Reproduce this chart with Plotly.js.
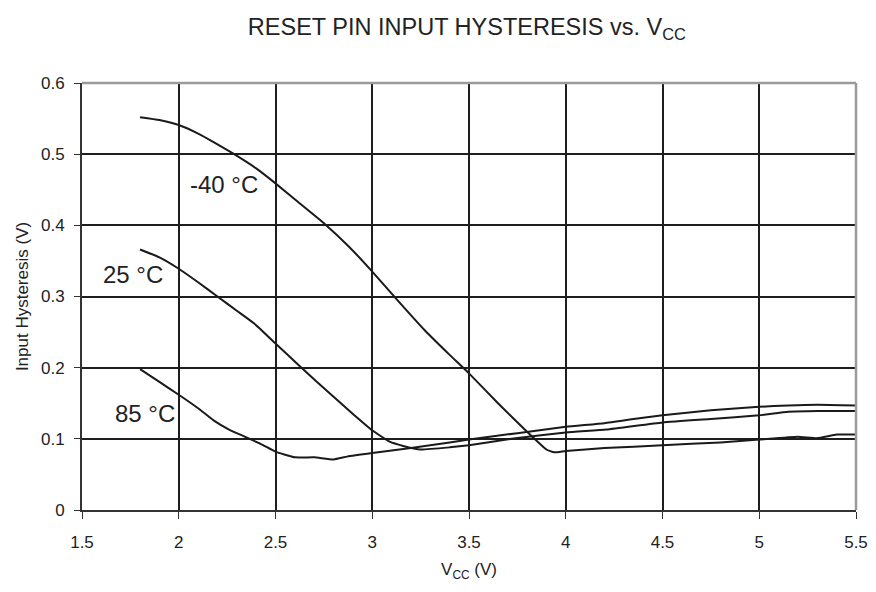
<!DOCTYPE html>
<html>
<head>
<meta charset="utf-8">
<script src="https://cdn.plot.ly/plotly-3.0.1.min.js"></script>
<style>html,body{margin:0;padding:0;background:#fff;}#chart{width:876px;height:592px;}</style>
</head>
<body>
<div id="chart"></div>
<script>
// Data
const vccM40 = [1.8, 1.9, 2.0, 2.1, 2.18, 2.28, 2.4, 2.5, 2.62, 2.75, 2.88, 3.0, 3.13, 3.27, 3.4, 3.5, 3.65, 3.8, 3.9, 3.94, 4.0, 4.2, 4.5, 4.8, 5.0, 5.2, 5.3, 5.4, 5.5];
const hystM40 = [0.552, 0.548, 0.541, 0.529, 0.517, 0.501, 0.480, 0.459, 0.432, 0.403, 0.370, 0.335, 0.295, 0.253, 0.218, 0.192, 0.150, 0.110, 0.085, 0.081, 0.083, 0.087, 0.091, 0.095, 0.099, 0.103, 0.101, 0.106, 0.106];

const vcc25 = [1.8, 1.9, 2.0, 2.1, 2.2, 2.3, 2.39, 2.5, 2.63, 2.8, 2.9, 3.0, 3.09, 3.16, 3.25, 3.4, 3.5, 3.72, 4.0, 4.21, 4.5, 4.75, 5.0, 5.15, 5.3, 5.5];
const hyst25 = [0.366, 0.355, 0.339, 0.320, 0.300, 0.280, 0.262, 0.234, 0.201, 0.159, 0.135, 0.112, 0.096, 0.090, 0.085, 0.088, 0.091, 0.100, 0.109, 0.113, 0.123, 0.128, 0.133, 0.138, 0.139, 0.139];

const vcc85 = [1.8, 1.9, 2.0, 2.1, 2.18, 2.26, 2.35, 2.43, 2.5, 2.6, 2.7, 2.8, 2.87, 3.0, 3.2, 3.4, 3.5, 3.75, 4.0, 4.2, 4.38, 4.5, 4.75, 5.0, 5.15, 5.3, 5.5];
const hyst85 = [0.198, 0.180, 0.162, 0.143, 0.126, 0.113, 0.102, 0.092, 0.082, 0.074, 0.074, 0.071, 0.075, 0.080, 0.087, 0.095, 0.099, 0.108, 0.117, 0.122, 0.129, 0.133, 0.140, 0.145, 0.147, 0.148, 0.147];

const seriesLabels = ["-40 °C", "25 °C", "85 °C"];
const labelX = [2.232, 1.766, 1.828];
const labelY = [0.458, 0.331, 0.135];

const xTicks = [1.5, 2, 2.5, 3, 3.5, 4, 4.5, 5, 5.5];
const yTicks = [0, 0.1, 0.2, 0.3, 0.4, 0.5, 0.6];

const FONT = "Liberation Sans, Arial, Helvetica, sans-serif";
const lineStyle = {color: "#1a1a1a", width: 2, shape: "spline", smoothing: 0.4};

const traces = [
  {x: vccM40, y: hystM40, name: seriesLabels[0], mode: "lines", line: lineStyle},
  {x: vcc25, y: hyst25, name: seriesLabels[1], mode: "lines", line: lineStyle},
  {x: vcc85, y: hyst85, name: seriesLabels[2], mode: "lines", line: lineStyle}
];

const annotations = seriesLabels.map((t, i) => ({
  x: labelX[i], y: labelY[i], xref: "x", yref: "y", text: t, showarrow: false,
  font: {family: FONT, size: 24, color: "#222"}, xanchor: "center", yanchor: "middle"
}));

const layout = {
  width: 876, height: 592,
  margin: {l: 82, r: 20, t: 83, b: 82},
  paper_bgcolor: "#fff", plot_bgcolor: "#fff",
  showlegend: false,
  font: {family: FONT, color: "#222"},
  title: {text: "RESET PIN INPUT HYSTERESIS vs. V<sub>CC</sub>", x: 0.533, xanchor: "center", y: 0.955, yanchor: "middle", yref: "container", font: {family: FONT, size: 23.5, color: "#222"}},
  xaxis: {
    range: [1.5, 5.5], tickvals: xTicks, ticktext: xTicks.map(String),
    showgrid: true, gridcolor: "#1e1e1e", gridwidth: 2,
    showline: true, linecolor: "#333", linewidth: 2,
    zeroline: false, ticks: "outside", ticklen: 7, tickwidth: 1, tickcolor: "#333",
    ticklabelstandoff: 9,
    tickfont: {family: FONT, size: 17, color: "#222"},
    title: {text: "V<sub>CC</sub> (V)", font: {family: FONT, size: 17, color: "#222"}, standoff: 12}
  },
  yaxis: {
    range: [0, 0.6], tickvals: yTicks, ticktext: yTicks.map(String),
    showgrid: true, gridcolor: "#1e1e1e", gridwidth: 2,
    showline: true, linecolor: "#333", linewidth: 2,
    zeroline: false, ticks: "outside", ticklen: 6, tickwidth: 1, tickcolor: "#333",
    ticklabelstandoff: 6,
    tickfont: {family: FONT, size: 17, color: "#222"},
    title: {text: "Input Hysteresis (V)", font: {family: FONT, size: 17, color: "#222"}, standoff: 8}
  },
  shapes: [
    {type: "line", xref: "paper", yref: "paper", x0: 0, x1: 1, y0: 1, y1: 1, line: {color: "#9a9a9a", width: 2.5}, layer: "above"},
    {type: "line", xref: "paper", yref: "paper", x0: 1, x1: 1, y0: 0, y1: 1, line: {color: "#9a9a9a", width: 2.5}, layer: "above"}
  ],
  annotations: annotations
};

Plotly.newPlot("chart", traces, layout, {staticPlot: true, displayModeBar: false});
</script>
</body>
</html>
